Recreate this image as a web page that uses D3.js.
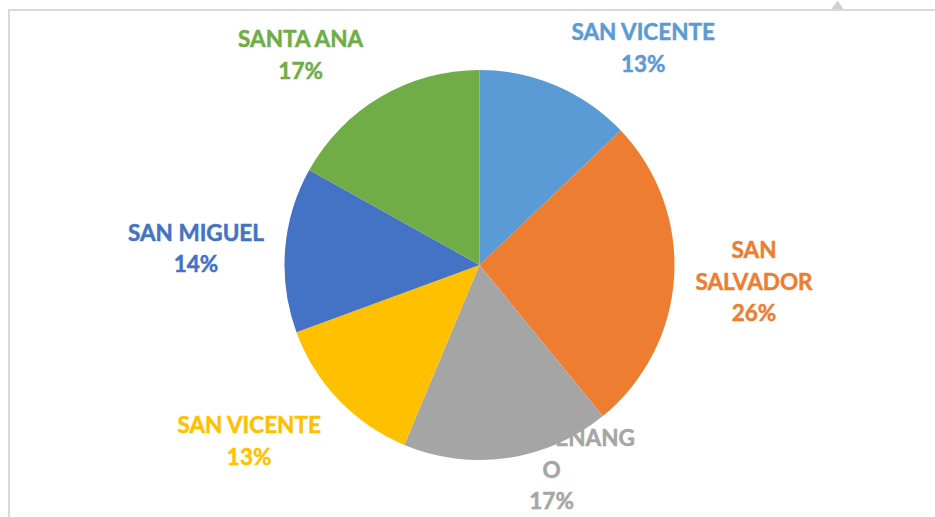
<!DOCTYPE html>
<html>
<head>
<meta charset="utf-8">
<script src="https://cdn.jsdelivr.net/npm/d3@7"></script>
<style>
  body { margin: 0; background: #fff; }
  .slice-label { font-family: Lato, 'Open Sans', sans-serif; font-weight: 700; font-size: 22.5px; stroke-width: 0.5px; }
</style>
</head>
<body>
<div id="chart"></div>
<script>
// departments, in drawing order starting at 12 o'clock, clockwise
const categories = ['SAN VICENTE', 'SAN SALVADOR', 'CHALATENANGO', 'SAN VICENTE', 'SAN MIGUEL', 'SANTA ANA']
const shares = [12.9, 26.2, 17.2, 13.1, 13.7, 16.9]
const colors = ['#5B9BD5', '#ED7D31', '#A5A5A5', '#FFC000', '#4472C4', '#70AD47']

// how Excel wrapped the labels
const labelLines = [
  ['SAN VICENTE'],
  ['SAN', 'SALVADOR'],
  ['CHALATENANG', 'O'],
  ['SAN VICENTE'],
  ['SAN MIGUEL'],
  ['SANTA ANA']
]
// best-fit label spots: angle (deg, clockwise from top) and distance from centre
const labelSpots = [
  { a: 37, r: 272 },
  { a: 93.5, r: 275 },
  { a: 160.6, r: 217 },
  { a: 232.6, r: 290 },
  { a: 273.3, r: 284 },
  { a: 319.6, r: 276 }
]

const width = 935
const height = 517
const cx = 479.5
const cy = 265
const radius = 195
const lineH = 31.5

const svg = d3.select('#chart')
  .append('svg')
  .attr('width', width)
  .attr('height', height)

// chart frame (cropped)
svg.append('line')
  .attr('x1', 8).attr('y1', 10).attr('x2', width).attr('y2', 10)
  .style('stroke', '#d9d9d9').style('stroke-width', 2)
svg.append('line')
  .attr('x1', 9).attr('y1', 9).attr('x2', 9).attr('y2', height)
  .style('stroke', '#d9d9d9').style('stroke-width', 2)
svg.append('path')
  .attr('d', 'M 831.5 9 L 837.5 0.5 L 843.5 9 Z')
  .style('fill', '#d0d0d0')

const pie = d3.pie().sort(null).value((d) => d)
const arcs = pie(shares)
const arc = d3.arc().innerRadius(0).outerRadius(radius)

const g = svg.append('g').attr('transform', `translate(${cx}, ${cy})`)

g.selectAll('path.slice')
  .data(arcs)
  .enter()
  .append('path')
  .attr('class', 'slice')
  .attr('d', arc)
  .style('fill', (d, i) => colors[i])

const total = d3.sum(shares)

g.selectAll('text.slice-label')
  .data(arcs)
  .enter()
  .append('text')
  .attr('class', 'slice-label')
  .attr('text-anchor', 'middle')
  .style('fill', (d, i) => colors[i])
  .style('stroke', (d, i) => colors[i])
  .each(function (d, i) {
    const lines = labelLines[i].concat([`${Math.round(d.value / total * 100)}%`])
    const spot = labelSpots[i]
    const rad = spot.a * Math.PI / 180
    const x = spot.r * Math.sin(rad)
    const y = -spot.r * Math.cos(rad)
    const first = y - (lines.length - 1) * lineH / 2 + 8
    d3.select(this)
      .selectAll('tspan')
      .data(lines)
      .enter()
      .append('tspan')
      .attr('x', x)
      .attr('y', (t, k) => first + k * lineH)
      .text((t) => t)
  })
</script>
</body>
</html>
